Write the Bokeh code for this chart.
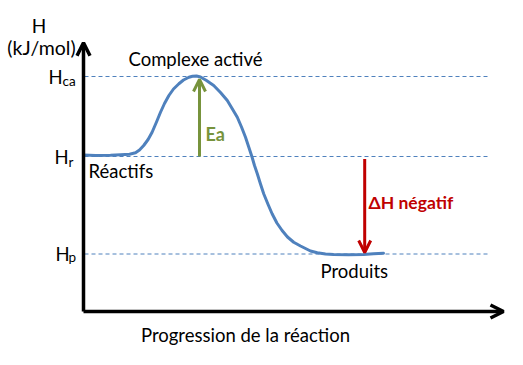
from bokeh.plotting import figure
from bokeh.models import Range1d, Arrow, OpenHead
from bokeh.core.properties import value
from bokeh.embed import file_html
from bokeh.resources import INLINE

# ---- data ----
progress = [0.0, 3.0, 6.75, 9.25, 11.5, 13.0, 14.0, 15.05, 16.15, 17.15, 18.25, 19.25,
            20.25, 21.35, 22.5, 23.85, 25.0, 26.35, 27.25, 28.25, 29.25, 30.75, 32.55,
            34.25, 35.95, 37.15, 38.45, 39.5, 40.5, 41.35, 42.15, 42.75, 43.45, 44.25,
            45.05, 46.15, 47.15, 48.35, 49.65, 51.0, 52.55, 54.25, 56.75, 58.45, 60.5,
            62.5, 66.25, 70.0, 72.5, 75.0]
enthalpy = [62.6, 62.4, 62.5, 62.7, 62.9, 63.5, 64.6, 66.4, 68.8, 71.7, 75.8, 79.7,
            83.2, 86.4, 89.0, 91.1, 92.6, 93.7, 94.1, 94.2, 93.8, 92.4, 90.4,
            87.6, 84.4, 81.2, 77.7, 73.8, 69.7, 65.6, 61.7, 58.4, 55.1, 51.0,
            47.1, 42.8, 39.1, 35.4, 32.4, 29.8, 27.7, 26.2, 24.2, 23.5, 23.0,
            22.8, 22.7, 22.8, 23.1, 23.3]
level_names = ["Hca", "Hr", "Hp"]
level_values = [94.0, 62.0, 23.0]
axis_x_max = 105.0
axis_y_max = 107.5
ea_x = 29.0
dh_x = 70.3

H_CA, H_R, H_P = level_values

FONT = value("Lato")
BLUE = "#4F81BD"
GREEN = "#77933C"
RED = "#C00000"

p = figure(width=523, height=365, x_range=Range1d(-20.75, 110.0),
           y_range=Range1d(-21.6, 124.4), output_backend="svg",
           toolbar_location=None, x_axis_type=None, y_axis_type=None,
           min_border=0, outline_line_color=None)
p.xgrid.visible = False
p.ygrid.visible = False
p.background_fill_color = "white"
p.border_fill_color = "white"

# dashed level lines
p.segment(x0=[0.25] * 3, x1=[101.25] * 3, y0=level_values, y1=level_values,
          line_color=BLUE, line_width=1, line_dash="4 3")

# curve
p.line(progress, enthalpy, line_color=BLUE, line_width=3, line_join="round", line_cap="round")

# axes as arrows
p.add_layout(Arrow(x_start=0, y_start=0, x_end=axis_x_max, y_end=0,
                   line_color="black", line_width=3.5,
                   end=OpenHead(size=13, line_width=3.5, line_color="black")))
p.add_layout(Arrow(x_start=0, y_start=0, x_end=0, y_end=axis_y_max,
                   line_color="black", line_width=3.5,
                   end=OpenHead(size=13, line_width=3.5, line_color="black")))

# Ea arrow
p.add_layout(Arrow(x_start=ea_x, y_start=H_R, x_end=ea_x, y_end=H_CA - 1.2,
                   line_color=GREEN, line_width=3,
                   end=OpenHead(size=12, line_width=3, line_color=GREEN)))
# Delta H arrow
p.add_layout(Arrow(x_start=dh_x, y_start=H_R - 1.0, x_end=dh_x, y_end=H_P + 0.6,
                   line_color=RED, line_width=3,
                   end=OpenHead(size=12, line_width=3, line_color=RED)))

UP = 2.8  # vertical text correction (data units)

def txt(x, y, s, size="18.5px", align="left", color="black", style="normal", up=UP):
    p.text(x=[x], y=[y + up], text=[s], text_font=FONT, text_font_size=size,
           text_align=align, text_baseline="alphabetic", text_color=color,
           text_font_style=style)

txt(-11.1, 113.2, "H", align="center", size="19px", up=1.4)
txt(-10.5, 104.0, "(kJ/mol)", align="center", size="19.5px", up=1.6)

txt(-8.75, 91.2, "H")
txt(-5.25, 89.4, "ca", size="13.5px")
txt(-7.25, 59.2, "H")
txt(-3.75, 57.0, "r", size="13.5px")
txt(-7.0, 20.4, "H")
txt(-3.75, 19.0, "p", size="13.5px")

txt(28.0, 98.4, "Complexe activé", align="center")
txt(1.25, 53.6, "Réactifs")
txt(59.25, 13.6, "Produits")
txt(40.5, -12.0, "Progression de la réaction", align="center")
txt(30.5, 68.4, "Ea", color=GREEN, style="bold", size="18px")
txt(71.25, 40.8, "ΔH négatif", color=RED, style="bold", size="17.5px")

open("out.html", "w").write(file_html(p, INLINE))
